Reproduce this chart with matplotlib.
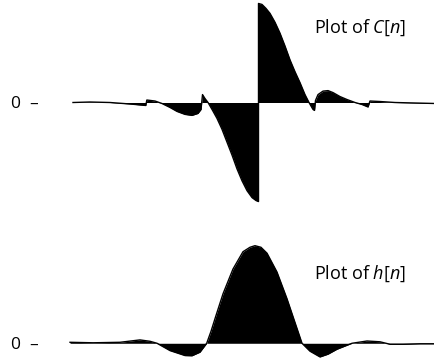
import matplotlib
matplotlib.use("Agg")
import matplotlib.pyplot as plt

plt.rcParams['font.family'] = ['Open Sans', 'DejaVu Sans']
plt.rcParams['mathtext.fontset'] = 'custom'
plt.rcParams['mathtext.rm'] = 'Open Sans'
plt.rcParams['mathtext.it'] = 'Open Sans:italic'

# C[n] samples (position n, value)
c_n = [-3.373, -3.064, -2.700, -2.336, -2.050, -2.030, -1.882, -1.755, -1.609, -1.482,
       -1.336, -1.209, -1.100, -1.045, -1.018, -0.973, -0.918, -0.845, -0.755, -0.664,
       -0.573, -0.482, -0.391, -0.300, -0.209, -0.118, -0.045, 0.0, 0.0, 0.064,
       0.136, 0.209, 0.300, 0.391, 0.482, 0.573, 0.664, 0.755, 0.845, 0.918,
       0.991, 1.018, 1.036, 1.082, 1.173, 1.264, 1.355, 1.482, 1.609, 1.755,
       1.882, 1.991, 2.027, 2.209, 2.482, 2.845, 3.209]
c_val = [0.0, 0.005, 0.0, -0.015, -0.03, 0.025, 0.015, -0.01, -0.05, -0.09,
         -0.12, -0.13, -0.11, -0.07, 0.08, 0.04, 0.0, -0.07, -0.16, -0.27,
         -0.40, -0.53, -0.67, -0.79, -0.89, -0.96, -0.99, -1.0, 1.0, 0.99,
         0.95, 0.90, 0.81, 0.70, 0.57, 0.43, 0.31, 0.20, 0.08, 0.0,
         -0.07, -0.08, 0.02, 0.08, 0.115, 0.12, 0.10, 0.06, 0.03, 0.0,
         -0.02, -0.045, 0.015, 0.01, 0.0, -0.005, -0.01]

# h[n] samples
h_n = [-3.427, -3.009, -2.518, -2.155, -1.973, -1.845, -1.609, -1.336, -1.209, -1.064,
       -0.942, -0.864, -0.773, -0.645, -0.464, -0.282, -0.155, -0.064, 0.045, 0.155,
       0.336, 0.518, 0.609, 0.700, 0.791, 0.936, 1.118, 1.264, 1.427, 1.700,
       1.973, 2.209, 2.391, 2.627, 2.936, 3.209]
h_val = [0.01, 0.005, 0.01, 0.034, 0.02, 0.0, -0.074, -0.124, -0.126, -0.09,
         0.0, 0.12, 0.28, 0.50, 0.75, 0.925, 0.97, 0.986, 0.97, 0.91,
         0.72, 0.45, 0.30, 0.15, 0.0, -0.08, -0.138, -0.11, -0.06, 0.0,
         0.023, 0.015, -0.01, -0.01, -0.005, -0.005]

c_label = r"Plot of $C[n]$"
h_label = r"Plot of $h[n]$"
zero_label = "0  \u2013"

W, H = 435, 360
fig = plt.figure(figsize=(W / 100, H / 100), dpi=100)

left_px, right_px = 68, 435
xl = ((left_px - 258.5) / 55, (right_px - 258.5) / 55)

ax1 = fig.add_axes([left_px / W, (H - 205) / H, (right_px - left_px) / W, 205 / H])
ax2 = fig.add_axes([left_px / W, 0, (right_px - left_px) / W, 125 / H])

for ax, xs, ys, lab, ylim, ty in [
        (ax1, c_n, c_val, c_label, (-1.035, 1.035), 0.755),
        (ax2, h_n, h_val, h_label, (-0.169, 1.094), 0.70)]:
    ax.fill_between(xs, 0, ys, color='black', linewidth=0)
    ax.plot(xs, ys, color='black', linewidth=1.0)
    ax.set_xlim(*xl)
    ax.set_ylim(*ylim)
    for s in ax.spines.values():
        s.set_visible(False)
    ax.set_xticks([])
    ax.set_yticks([0])
    ax.set_yticklabels([zero_label])
    ax.tick_params(axis='y', length=0, pad=21, labelsize=12.5)
    ax.text((314 - 258.5) / 55, ty, lab, fontsize=13, ha='left', va='center')

fig.savefig("out.png", dpi=100)
